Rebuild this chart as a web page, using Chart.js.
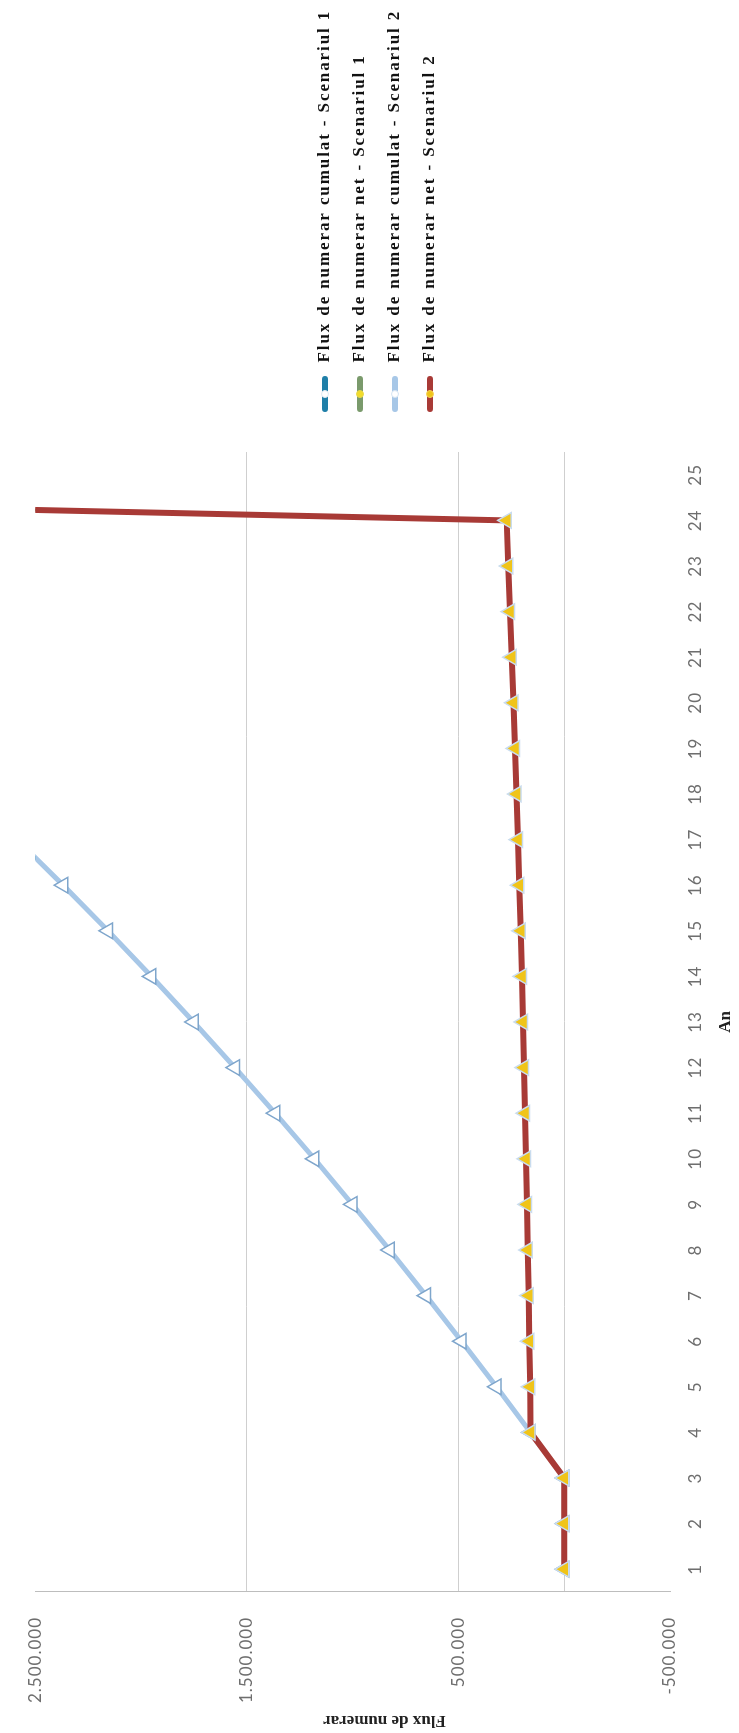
<!DOCTYPE html>
<html>
<head>
<meta charset="utf-8">
<script src="https://cdn.jsdelivr.net/npm/chart.js@4.4.1/dist/chart.umd.min.js"></script>
<style>
html,body{margin:0;padding:0;background:#fff;width:739px;height:1733px;overflow:hidden;}
#wrap{position:absolute;left:0;top:0;width:1733px;height:739px;transform-origin:0 0;transform:translate(0,1733px) rotate(-90deg);background:#fff;}
canvas{display:block;}
</style>
</head>
<body>
<div id="wrap"><canvas id="c" width="1733" height="739"></canvas></div>
<script>
// ---- data ----
const years = ['1','2','3','4','5','6','7','8','9','10','11','12','13','14','15','16','17','18','19','20','21','22','23','24','25'];
const netScenario2 = [0,0,0,159000,161000,165000,168000,172000,176000,180000,185000,190000,195000,200000,205000,212000,218000,225000,232000,240000,248000,256000,264000,272000,10000000];
const cumScenario2 = [0,0,0,159000,320000,485000,653000,825000,1001000,1181000,1366000,1556000,1751000,1951000,2156000,2368000,2586000,2811000,3043000,3283000,3531000,3787000,4051000,4323000,14323000];
const netScenario1 = [0,0,0,159000,161000,165000,168000,172000,176000,180000,185000,190000,195000,200000,205000,212000,218000,225000,232000,240000,248000,256000,264000,272000,10000000];
const cumScenario1 = [0,0,0,159000,320000,485000,653000,825000,1001000,1181000,1366000,1556000,1751000,1951000,2156000,2368000,2586000,2811000,3043000,3283000,3531000,3787000,4051000,4323000,14323000];
const valueTicks = [-500000, 0, 500000, 1500000, 2500000];
const seriesNames = [
  'Flux de numerar cumulat - Scenariul 1',
  'Flux de numerar net - Scenariul 1',
  'Flux de numerar cumulat - Scenariul 2',
  'Flux de numerar net - Scenariul 2'
];
const yTitle = 'Flux de numerar';
const xTitle = 'An';

// ---- styling ----
const COL_BLUE = '#1f7fa8', COL_GREEN = '#7a9a6c', COL_LBLUE = '#a7c7e7', COL_RED = '#a83a36';
const LEG_SIZE = 17, LEG_SPACING = '1.9px', TICK_SPACING = '1px';
const LEGEND_BLOCK = 452;

// the scanned original is slightly stretched: emulate with letter spacing
function withSpacing(proto, method, spacing) {
  if (!proto || !proto[method]) return;
  const orig = proto[method];
  proto[method] = function (...a) {
    const c = this.ctx;
    if (!c || !('letterSpacing' in c)) return orig.apply(this, a);
    const prev = c.letterSpacing;
    c.letterSpacing = spacing;
    try { return orig.apply(this, a); } finally { c.letterSpacing = prev; }
  };
}
const LegendEl = Chart.Legend && Chart.Legend._element;
if (LegendEl) {
  const origFit = LegendEl.prototype.fit;
  LegendEl.prototype.fit = function (...a) {
    const r = origFit.apply(this, a);
    if (this.options && this.options.display !== false) this.width = LEGEND_BLOCK;
    return r;
  };
  withSpacing(LegendEl.prototype, 'draw', LEG_SPACING);
}
withSpacing(Chart.Scale.prototype, 'drawLabels', TICK_SPACING);

function makeKey(lineColor, fill, stroke) {
  const c = document.createElement('canvas');
  c.width = 63; c.height = 12;
  const g = c.getContext('2d');
  g.strokeStyle = lineColor; g.lineWidth = 6; g.lineCap = 'round';
  g.beginPath(); g.moveTo(25, 6); g.lineTo(55, 6); g.stroke();
  g.fillStyle = fill; g.strokeStyle = stroke; g.lineWidth = 1;
  g.beginPath(); g.arc(40, 6, 3.5, 0, Math.PI * 2); g.fill(); g.stroke();
  return c;
}
const keys = [
  makeKey(COL_BLUE, '#ffffff', '#dfeaf2'),
  makeKey(COL_GREEN, '#f2dc2a', '#e8d84a'),
  makeKey(COL_LBLUE, '#ffffff', '#d5e4f2'),
  makeKey(COL_RED, '#f0c419', '#f5d25a')
];

function fmt(v) {
  const s = String(Math.abs(v)).replace(/\B(?=(\d{3})+(?!\d))/g, '.');
  return (v < 0 ? '-' : '') + s;
}

new Chart(document.getElementById('c'), {
  type: 'line',
  data: {
    labels: years,
    datasets: [
      { label: seriesNames[0], data: cumScenario1, order: 3, borderColor: COL_BLUE, backgroundColor: COL_BLUE,
        borderWidth: 3, pointStyle: 'circle', pointRadius: 2, pointBackgroundColor: '#fff', pointBorderColor: COL_BLUE },
      { label: seriesNames[1], data: netScenario1, order: 2, borderColor: COL_GREEN, backgroundColor: COL_GREEN,
        borderWidth: 3, pointStyle: 'circle', pointRadius: 2, pointBackgroundColor: '#f2dc2a', pointBorderColor: COL_GREEN },
      { label: seriesNames[2], data: cumScenario2, order: 1, borderColor: COL_LBLUE, backgroundColor: COL_LBLUE,
        borderWidth: 5, pointStyle: 'triangle', pointRadius: 9, pointBackgroundColor: '#ffffff',
        pointBorderColor: '#7fa6cc', pointBorderWidth: 1.5 },
      { label: seriesNames[3], data: netScenario2, order: 0, borderColor: COL_RED, backgroundColor: COL_RED,
        borderWidth: 6, pointStyle: 'triangle', pointRadius: 9, pointBackgroundColor: '#f0c419',
        pointBorderColor: '#c9dcee', pointBorderWidth: 1.5 }
    ]
  },
  options: {
    responsive: false,
    animation: false,
    layout: { padding: { top: 16, right: 0, left: 0, bottom: 0 } },
    plugins: {
      tooltip: { enabled: false },
      legend: {
        position: 'right',
        align: 'center',
        labels: {
          usePointStyle: true,
          pointStyleWidth: 63,
          boxHeight: 18,
          padding: 18,
          color: '#111',
          font: { family: 'Liberation Serif', size: LEG_SIZE, weight: 'bold' },
          sort: (a, b) => a.datasetIndex - b.datasetIndex,
          generateLabels(chart) {
            const items = Chart.defaults.plugins.legend.labels.generateLabels(chart);
            items.forEach(it => { it.pointStyle = keys[it.datasetIndex]; });
            return items;
          }
        }
      }
    },
    scales: {
      x: {
        type: 'category',
        offset: true,
        grid: { display: false, drawTicks: false },
        border: { display: false },
        ticks: { color: '#6e6e6e', padding: 15, maxRotation: 0, autoSkip: false,
                 font: { family: 'Lato', size: 17 } },
        title: { display: true, text: xTitle, color: '#222', padding: { top: 0, bottom: 3 },
                 font: { family: 'Liberation Serif', size: 17, weight: 'bold' } },
        afterFit(s) { s.height = 69; }
      },
      y: {
        type: 'linear',
        min: -500000,
        max: 2500000,
        afterBuildTicks(s) { s.ticks = valueTicks.map(v => ({ value: v })); },
        grid: {
          drawTicks: false,
          lineWidth: 1,
          color: ctx => (ctx.tick && (ctx.tick.value === 2500000 || ctx.tick.value === -500000)) ? 'rgba(0,0,0,0)' : '#cfcfcf'
        },
        border: { display: true, color: '#bdbdbd', width: 1 },
        ticks: { color: '#6e6e6e', padding: 25, font: { family: 'Lato', size: 17 },
                 callback: v => v === 0 ? '' : fmt(v) },
        title: { display: true, text: yTitle + '\u00a0'.repeat(15), color: '#222', padding: { top: 2, bottom: 0 },
                 font: { family: 'Liberation Serif', size: 17, weight: 'bold' } },
        afterFit(s) { s.width = 141; }
      }
    }
  }
});
</script>
</body>
</html>
